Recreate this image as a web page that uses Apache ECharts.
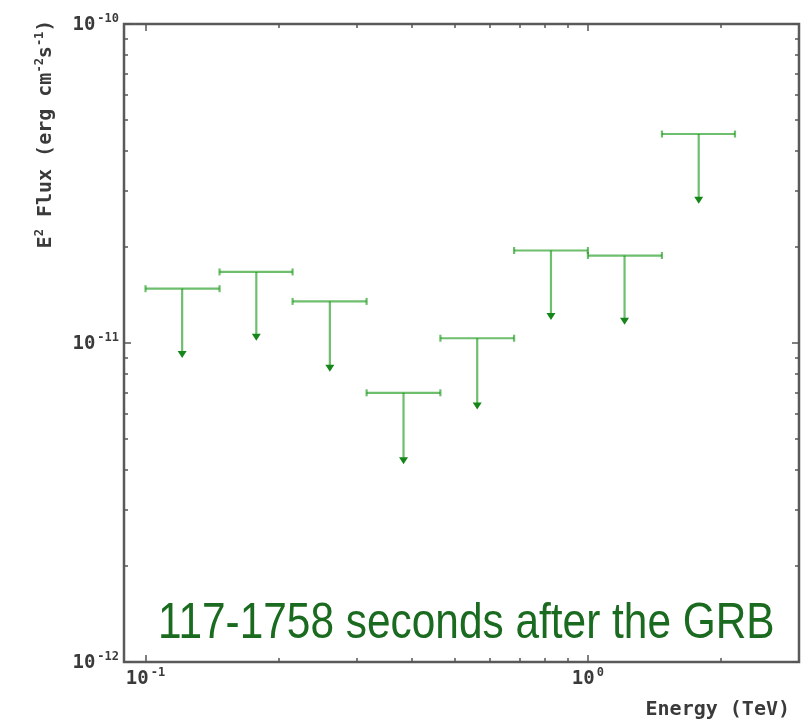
<!DOCTYPE html>
<html><head><meta charset="utf-8">
<script src="https://cdn.jsdelivr.net/npm/echarts@6/dist/echarts.min.js"></script>
<style>html,body{margin:0;padding:0;background:#fff}#chart{width:801px;height:721px}</style>
</head><body><div id="chart"></div>
<script>
// ---- data ----
const binLow   = [0.100, 0.147, 0.215, 0.316, 0.464, 0.681, 1.00, 1.47];
const binHigh  = [0.147, 0.215, 0.316, 0.464, 0.681, 1.00, 1.47, 2.15];
const energy   = [0.121, 0.178, 0.261, 0.383, 0.562, 0.825, 1.21, 1.78];
const fluxUL   = [1.48e-11, 1.67e-11, 1.35e-11, 6.98e-12, 1.035e-11, 1.95e-11, 1.88e-11, 4.52e-11];
const arrowTip = [8.97e-12, 1.017e-11, 8.13e-12, 4.17e-12, 6.19e-12, 1.18e-11, 1.14e-11, 2.73e-11];

const xMajorTicks = [0.1, 1];
const xMajorExp   = ['-1', '0'];
const xMinorTicks = [0.2, 0.3, 0.4, 0.5, 0.6, 0.7, 0.8, 0.9, 2];
const yMajorTicks = [1e-12, 1e-11, 1e-10];
const yMajorExp   = ['-12', '-11', '-10'];
const yMinorTicks = [2e-12, 3e-12, 4e-12, 5e-12, 6e-12, 7e-12, 8e-12, 9e-12,
                     2e-11, 3e-11, 4e-11, 5e-11, 6e-11, 7e-11, 8e-11, 9e-11];

const xTitle = 'Energy (TeV)';
const yTitleParts = [['n','E'],['s','2'],['n',' Flux (erg cm'],['s','-2'],['n','s'],['s','-1'],['n',')']];
const annotation = '117-1758 seconds after the GRB';

const X_MIN = 0.0894, X_MAX = 3.0;
const Y_MIN = 1e-12, Y_MAX = 1e-10;

// ---- styling ----
const MONO = 'DejaVu Sans Mono';
const TXT = '#3a3a3a';
const TICK = '#555';
const LINE_COLOR = 'rgba(20,150,20,0.62)';
const HEAD_COLOR = '#17861a';

function expIndex(arr, v) {
  for (let i = 0; i < arr.length; i++) if (Math.abs(Math.log10(arr[i] / v)) < 1e-4) return i;
  return -1;
}
const richTick = {
  b: { fontFamily: MONO, fontWeight: 'bold', fontSize: 19, color: TXT, lineHeight: 22, verticalAlign: 'bottom' },
  s: { fontFamily: MONO, fontWeight: 'bold', fontSize: 12, color: TXT, lineHeight: 22, verticalAlign: 'top', padding: [0, 0, 0, 2] }
};

function makeX(pos, ticks, len, withLabels) {
  return {
    type: 'log', logBase: 10, min: X_MIN, max: X_MAX, position: pos,
    axisLine: { show: false, onZero: false },
    splitLine: { show: false }, minorTick: { show: false },
    axisTick: { show: true, inside: true, length: len, customValues: ticks, lineStyle: { color: TICK, width: 1.5 } },
    axisLabel: withLabels ? {
      show: true, customValues: ticks, margin: 5,
      formatter: v => { const i = expIndex(xMajorTicks, v); return i < 0 ? '' : '{b|10}{s|' + xMajorExp[i] + '}'; },
      rich: richTick
    } : { show: false }
  };
}
function makeY(pos, ticks, len, withLabels) {
  return {
    type: 'log', logBase: 10, min: Y_MIN, max: Y_MAX, position: pos,
    axisLine: { show: false, onZero: false },
    splitLine: { show: false }, minorTick: { show: false },
    axisTick: { show: true, inside: true, length: len, customValues: ticks, lineStyle: { color: TICK, width: 1.5 } },
    axisLabel: withLabels ? {
      show: true, customValues: ticks, margin: 5,
      formatter: v => { const i = expIndex(yMajorTicks, v); return i < 0 ? '' : '{b|10}{s|' + yMajorExp[i] + '}'; },
      rich: richTick
    } : { show: false }
  };
}

const data = energy.map((e, i) => [binLow[i], binHigh[i], e, fluxUL[i], arrowTip[i]]);

const chart = echarts.init(document.getElementById('chart'), null, { renderer: 'canvas' });
chart.setOption({
  animation: false,
  backgroundColor: '#fff',
  grid: { left: 124, top: 24, width: 675, height: 638, show: true, borderColor: '#5a5a5a', borderWidth: 2.5, backgroundColor: 'transparent', containLabel: false },
  xAxis: [
    makeX('bottom', xMajorTicks, 7, true),
    makeX('bottom', xMinorTicks, 4, false),
    makeX('top', xMajorTicks, 7, false),
    makeX('top', xMinorTicks, 4, false)
  ],
  yAxis: [
    makeY('left', yMajorTicks, 7, true),
    makeY('left', yMinorTicks, 4, false),
    makeY('right', yMajorTicks, 7, false),
    makeY('right', yMinorTicks, 4, false)
  ],
  series: [{
    type: 'custom', xAxisIndex: 0, yAxisIndex: 0, clip: false,
    encode: { x: [0, 1, 2], y: [3, 4] },
    data: data,
    renderItem: function (params, api) {
      const y = api.value(3);
      const lo = api.coord([api.value(0), y]);
      const hi = api.coord([api.value(1), y]);
      const c = api.coord([api.value(2), y]);
      const tip = api.coord([api.value(2), api.value(4)]);
      const st = { stroke: LINE_COLOR, lineWidth: 2.2, fill: null };
      const CAP = 3.5, HW = 4.5, HH = 7;
      return {
        type: 'group',
        children: [
          { type: 'line', shape: { x1: lo[0], y1: lo[1], x2: hi[0], y2: hi[1] }, style: st },
          { type: 'line', shape: { x1: lo[0], y1: lo[1] - CAP, x2: lo[0], y2: lo[1] + CAP }, style: st },
          { type: 'line', shape: { x1: hi[0], y1: hi[1] - CAP, x2: hi[0], y2: hi[1] + CAP }, style: st },
          { type: 'line', shape: { x1: c[0], y1: c[1], x2: tip[0], y2: tip[1] - HH + 1 }, style: st },
          { type: 'polygon', shape: { points: [[tip[0] - HW, tip[1] - HH], [tip[0] + HW, tip[1] - HH], [tip[0], tip[1]]] }, style: { fill: HEAD_COLOR } }
        ]
      };
    }
  }],
  graphic: [
    {
      type: 'text', x: 790, y: 710,
      style: { text: xTitle, fontFamily: MONO, fontWeight: 'bold', fontSize: 20, fill: TXT, align: 'right', verticalAlign: 'middle' }
    },
    {
      type: 'text', x: 45, y: 134, rotation: Math.PI / 2,
      style: {
        text: yTitleParts.map(p => '{' + p[0] + '|' + p[1] + '}').join(''),
        align: 'center', verticalAlign: 'middle',
        rich: {
          n: { fontFamily: MONO, fontWeight: 'bold', fontSize: 20, fill: TXT, lineHeight: 22, verticalAlign: 'bottom' },
          s: { fontFamily: MONO, fontWeight: 'bold', fontSize: 12, fill: TXT, lineHeight: 22, verticalAlign: 'top' }
        }
      }
    },
    {
      type: 'text', x: 158, y: 624, scaleY: 1.17,
      style: { text: annotation, fontFamily: 'Liberation Sans', fontSize: 42.4, fill: '#1a6b1f', align: 'left', verticalAlign: 'middle' }
    }
  ]
});
</script>
</body></html>
